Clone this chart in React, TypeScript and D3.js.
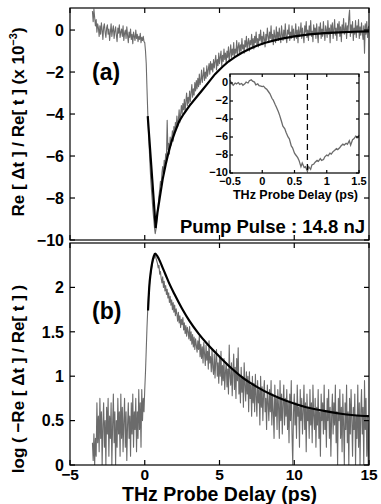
import React from 'react';
import * as d3 from 'd3';

const W = 381;
const H = 504;

// measured traces are sampled every 0.05 ps starting at -3.5 ps (one row = 0.5 ps)
const traceStart = -3.5;
const traceStep = 0.05;

// panel (a): Re[dt]/Re[t] (x 1e-3)
const reTrace = [
  0.9, 0.4, 1.0, 0.6, 0.2, 0.5, -0.1, 0.3, 0.1, -0.3, // -3.5
  0.2, -0.2, 0.35, 0.0, -0.45, 0.15, 0.3, -0.1, -0.35, 0.1, // -3.0
  0.25, -0.2, 0.05, -0.5, -0.1, 0.3, -0.3, 0.0, 0.2, -0.4, // -2.5
  -0.05, 0.15, -0.25, -0.55, 0.1, -0.15, 0.25, -0.35, -0.1, 0.05, // -2.0
  -0.3, 0.2, -0.5, -0.15, 0.0, -0.4, 0.15, -0.25, -0.6, -0.1, // -1.5
  -0.35, 0.05, -0.45, -0.2, -0.65, -0.1, -0.3, -0.5, 0.0, -0.4, // -1.0
  -0.2, -0.55, -0.3, -0.45, -0.15, -0.6, -0.35, -0.5, -0.3, -0.55, // -0.5
  -0.6, -1.0, -1.6, -2.8, -3.9, -4.8, -5.6, -6.4, -7.1, -7.6, // 0.0
  -8.1, -8.6, -9.0, -9.4, -9.7, -9.5, -9.1, -8.6, -8.4, -7.9, // 0.5
  -7.6, -7.2, -7.4, -6.8, -6.5, -6.9, -6.2, -6.5, -5.9, -6.1, // 1.0
  -4.3, -5.7, -5.4, -5.9, -5.1, -5.5, -5.2, -4.8, -5.3, -4.6, // 1.5
  -4.9, -4.4, -4.7, -4.1, -4.6, -4.3, -3.8, -4.4, -4.0, -3.6, // 2.0
  -4.0, -3.5, -3.8, -3.3, -3.9, -3.4, -3.0, -3.6, -3.2, -3.5, // 2.5
  -2.9, -3.4, -3.0, -2.6, -3.2, -2.8, -3.1, -2.5, -2.9, -2.4, // 3.0
  -2.8, -2.3, -2.7, -2.1, -2.6, -2.4, -1.9, -2.5, -2.2, -1.8, // 3.5
  -2.4, -2.0, -2.3, -1.7, -2.2, -1.9, -1.6, -2.1, -1.5, -1.9, // 4.0
  -1.6, -2.0, -1.4, -1.8, -1.5, -1.2, -1.9, -1.4, -1.7, -1.1, // 4.5
  -1.6, -1.3, -1.0, -1.7, -1.2, -1.5, -0.9, -1.4, -1.1, -1.6, // 5.0
  -1.0, -1.3, -0.8, -1.5, -1.1, -0.7, -1.3, -0.9, -1.2, -0.6, // 5.5
  -1.3, -0.9, -1.1, -0.5, -1.2, -0.8, -0.6, -1.1, -0.7, -1.0, // 6.0
  -0.4, -0.9, -0.7, -1.1, -0.5, -0.8, -0.3, -0.9, -0.6, -0.4, // 6.5
  -1.0, -0.5, -0.7, -0.2, -0.8, -0.4, -0.9, -0.3, -0.6, -0.1, // 7.0
  -0.7, -0.4, -0.8, -0.2, -0.5, 0.0, -0.6, -0.3, -0.7, -0.1, // 7.5
  -0.4, -0.8, -0.2, -0.5, 0.1, -0.3, -0.6, -0.1, -0.4, 0.2, // 8.0
  -0.5, -0.2, -0.7, 0.0, -0.3, -0.6, 0.15, -0.4, -0.1, -0.5, // 8.5
  0.1, -0.3, -0.6, 0.2, -0.2, -0.5, 0.0, -0.4, 0.3, -0.3, // 9.0
  -0.6, 0.0, -0.2, 0.25, -0.5, -0.1, -0.4, 0.2, -0.3, 0.05, // 9.5
  -0.5, -0.2, 0.3, -0.4, 0.0, -0.6, 0.15, -0.3, -0.1, 0.35, // 10.0
  -0.4, 0.1, -0.25, -0.6, 0.2, -0.1, 0.4, -0.35, 0.0, -0.5, // 10.5
  0.2, -0.2, 0.45, -0.3, -0.05, -0.55, 0.25, -0.15, 0.1, -0.4, // 11.0
  0.3, -0.2, -0.6, 0.15, -0.1, 0.35, -0.4, 0.05, -0.3, 0.4, // 11.5
  -0.1, -0.5, 0.2, 0.0, -0.35, 0.45, -0.2, 0.1, -0.6, 0.25, // 12.0
  -0.15, 0.35, -0.4, 0.05, 0.5, -0.25, 0.1, -0.5, 0.3, -0.05, // 12.5
  0.4, -0.3, 0.15, -0.55, 0.25, -0.1, 0.55, -0.2, 0.0, 0.35, // 13.0
  -0.4, 0.2, -0.1, 0.6, 0.95, -0.3, 0.25, -0.15, 0.4, -0.5, // 13.5
  0.1, -0.2, 0.45, -0.35, 0.2, -0.05, 0.5, -0.4, 0.15, -0.25, // 14.0
  0.35, -0.1, -0.45, 0.2, -1.1, 0.3, -0.2, 0.4, -0.35, 0.1, // 14.5
  0.2, // 15.0
];

const reFitT = [0.2, 0.3, 0.4, 0.5, 0.6, 0.73, 0.85, 1.0, 1.2, 1.4, 1.6, 1.8, 2.0, 2.3, 2.6, 3.0, 3.4, 3.8, 4.2, 4.7, 5.2, 5.6, 6.0, 6.5, 7.0, 7.5, 8, 9, 10, 11, 12, 13, 14, 15];
const reFitV = [-4.1, -5.1, -6.1, -7.1, -8.1, -9.43, -8.7, -8.0, -7.1, -6.4, -5.8, -5.3, -4.9, -4.35, -4.0, -3.6, -3.25, -2.9, -2.55, -2.1, -1.75, -1.5, -1.3, -1.08, -0.9, -0.75, -0.62, -0.43, -0.3, -0.21, -0.15, -0.11, -0.08, -0.06];

// panel (b): log(-Re[dt]/Re[t])
const logTrace = [
  0.25, 0.05, 0.35, 0.0, 0.3, 0.1, 0.7, 0.25, 0.55, 0.15, // -3.5
  0.75, 0.3, 0.6, 0.0, 0.45, 0.7, 0.2, 0.5, 0.0, 0.65, // -3.0
  0.35, 0.75, 0.1, 0.55, 0.3, 0.7, 0.0, 0.45, 0.8, 0.25, // -2.5
  0.6, 0.0, 0.5, 0.2, 0.75, 0.35, 0.6, 0.1, 0.8, 0.3, // -2.0
  0.65, 0.15, 0.5, 0.75, 0.2, 0.6, 0.05, 0.45, 0.7, 0.3, // -1.5
  0.55, 0.1, 0.7, 0.35, 0.8, 0.2, 0.6, 0.4, 0.75, 0.15, // -1.0
  0.6, 0.3, 0.85, 0.4, 0.7, 0.2, 0.85, 0.5, 0.75, 0.6, // -0.5
  0.85, 1.05, 1.3, 1.55, 1.75, 1.9, 2.0, 2.1, 2.15, 2.2, // 0.0
  2.25, 2.3, 2.32, 2.34, 2.36, 2.33, 2.3, 2.27, 2.22, 2.25, // 0.5
  2.15, 2.18, 2.1, 2.05, 2.12, 2.0, 2.07, 1.96, 2.02, 1.92, // 1.0
  1.98, 1.88, 1.94, 1.83, 1.9, 1.8, 1.86, 1.75, 1.83, 1.72, // 1.5
  1.8, 1.68, 1.76, 1.7, 1.62, 1.72, 1.6, 1.68, 1.55, 1.64, // 2.0
  1.58, 1.66, 1.52, 1.6, 1.48, 1.57, 1.45, 1.55, 1.5, 1.42, // 2.5
  1.56, 1.4, 1.5, 1.36, 1.47, 1.33, 1.44, 1.3, 1.42, 1.35, // 3.0
  1.27, 1.4, 1.3, 1.45, 1.22, 1.36, 1.2, 1.33, 1.15, 1.38, // 3.5
  1.25, 1.12, 1.35, 1.18, 1.28, 1.08, 1.4, 1.15, 1.22, 1.05, // 4.0
  1.3, 1.1, 1.02, 1.25, 0.98, 1.18, 1.3, 1.0, 1.15, 0.92, // 4.5
  1.22, 1.0, 1.28, 0.9, 1.12, 0.95, 1.2, 0.85, 1.05, 1.15, // 5.0
  0.88, 1.08, 0.8, 1.35, 1.0, 0.9, 1.15, 0.78, 1.05, 1.25, // 5.5
  0.85, 1.1, 0.75, 1.2, 0.95, 1.32, 0.8, 1.0, 0.7, 1.1, // 6.0
  0.82, 1.0, 0.65, 1.15, 0.9, 0.72, 1.05, 0.8, 1.0, 0.6, // 6.5
  1.05, 0.75, 0.9, 0.55, 1.0, 0.7, 0.92, 0.6, 1.02, 0.78, // 7.0
  0.55, 0.95, 0.7, 0.85, 0.45, 1.0, 0.65, 0.88, 0.5, 0.8, // 7.5
  0.95, 0.6, 0.75, 0.4, 0.9, 0.7, 0.5, 0.85, 0.6, 0.95, // 8.0
  0.45, 0.8, 0.6, 0.3, 0.9, 0.55, 0.75, 0.4, 0.85, 0.65, // 8.5
  0.3, 0.95, 0.5, 0.8, 0.35, 0.7, 0.9, 0.45, 0.75, 0.55, // 9.0
  0.85, 0.4, 0.7, 0.25, 0.8, 0.5, 0.95, 0.35, 0.0, 0.6, // 9.5
  0.8, 0.45, 0.7, 0.3, 0.9, 0.55, 0.65, 0.2, 0.85, 0.5, // 10.0
  0.75, 0.35, 0.6, 0.9, 0.4, 0.7, 0.15, 0.8, 0.5, 0.65, // 10.5
  0.3, 0.85, 0.45, 0.7, 0.25, 0.9, 0.55, 0.4, 0.75, 0.2, // 11.0
  0.65, 0.45, 0.85, 0.3, 0.6, 0.1, 0.8, 0.5, 0.7, 0.35, // 11.5
  0.9, 0.4, 0.6, 0.2, 0.75, 0.5, 0.85, 0.3, 0.65, 0.1, // 12.0
  0.55, 0.8, 0.35, 0.7, 0.45, 0.9, 0.25, 0.6, 0.0, 0.75, // 12.5
  0.5, 0.85, 0.3, 0.65, 0.15, 0.8, 0.45, 0.0, 0.7, 0.4, // 13.0
  0.9, 0.25, 0.6, 0.0, 0.75, 0.35, 0.85, 0.5, 0.1, 0.65, // 13.5
  0.4, 0.8, 0.0, 0.55, 0.3, 0.9, 0.2, 0.7, 0.0, 0.6, // 14.0
  0.85, 0.35, 0.65, 0.0, 0.95, 0.4, 0.75, 0.1, 0.55, 0.0, // 14.5
  0.5, // 15.0
];

const logFitT = [0.22, 0.3, 0.4, 0.5, 0.6, 0.7, 0.85, 1.0, 1.2, 1.4, 1.6, 2.0, 2.5, 3.0, 3.6, 4.2, 5.0, 5.8, 6.5, 7.5, 8.5, 9.5, 10.8, 12, 13, 14, 15];
const logFitV = [1.74, 2.0, 2.17, 2.28, 2.35, 2.38, 2.35, 2.3, 2.22, 2.14, 2.06, 1.92, 1.76, 1.62, 1.48, 1.36, 1.22, 1.09, 0.99, 0.88, 0.79, 0.72, 0.65, 0.61, 0.58, 0.56, 0.55];

// inset: zoom on the first 2 ps
const insetT = [-0.5, -0.47, -0.45, -0.42, -0.4, -0.37, -0.35, -0.32, -0.3, -0.27, -0.25, -0.22, -0.2, -0.17, -0.15, -0.12, -0.1, -0.07, -0.05, -0.02,
  0.0, 0.02, 0.05, 0.07, 0.1, 0.12, 0.15, 0.17, 0.2, 0.22, 0.25, 0.27, 0.3, 0.32, 0.35, 0.37, 0.4, 0.42, 0.45, 0.47,
  0.5, 0.52, 0.55, 0.57, 0.6, 0.62, 0.65, 0.67, 0.7, 0.72, 0.75, 0.77, 0.8, 0.82, 0.85, 0.87, 0.9, 0.92, 0.95, 0.97,
  1.0, 1.02, 1.05, 1.07, 1.1, 1.12, 1.15, 1.17, 1.2, 1.22, 1.25, 1.27, 1.3, 1.32, 1.35, 1.37, 1.4, 1.42, 1.45, 1.47, 1.5];
const insetV = [0.3, -0.1, -0.25, 0.0, -0.1, 0.05, -0.15, -0.05, -0.25, -0.1, 0.1, 0.0, 0.25, 0.35, 0.2, 0.1, -0.2, -0.1, -0.3, -0.35,
  -0.4, -0.35, -0.6, -0.7, -1.0, -1.2, -1.7, -1.9, -2.4, -2.7, -3.2, -3.6, -4.3, -4.8, -5.1, -5.5, -6.0, -6.2, -7.0, -7.2,
  -7.8, -8.0, -8.3, -8.6, -9.3, -8.9, -9.4, -9.3, -9.8, -9.3, -9.6, -9.1, -9.0, -8.8, -8.6, -8.7, -8.4, -8.6, -8.5, -8.2,
  -8.0, -8.1, -7.8, -7.9, -7.6, -7.5, -7.3, -7.4, -7.2, -7.0, -6.8, -6.9, -6.7, -6.8, -6.4, -6.9, -6.3, -6.2, -5.9, -6.1, -5.8];
const insetMarker = 0.7;

const delayTicks = [-5, 0, 5, 10, 15];
const reTicks = [0, -2, -4, -6, -8, -10];
const logTicks = [0, 0.5, 1, 1.5, 2];
const insetXTicks = [-0.5, 0, 0.5, 1, 1.5];
const insetYTicks = [0, -2, -4, -6, -8, -10];

const FONT = '"Liberation Sans", Arial, Helvetica, sans-serif';
const GRAY = '#6b6b6b';
const fmt = (v: number) => String(v).replace('-', '\u2212');

type Pt = [number, number];
const zip = (t: number[], v: number[]): Pt[] => t.map((x, i) => [x, v[i]]);
const onGrid = (v: number[]): Pt[] => v.map((y, i) => [traceStart + i * traceStep, y]);

function Frame({ x, y, tick, xTicks, yTicks }: any) {
  const [x0, x1] = x.range();
  const [y0, y1] = y.range();
  return (
    <g stroke="#000" strokeWidth={1.2} fill="none">
      <rect x={x0} y={y1} width={x1 - x0} height={y0 - y1} />
      {xTicks.map((t: number) => (
        <g key={'x' + t}>
          <line x1={x(t)} x2={x(t)} y1={y0} y2={y0 - tick} />
          <line x1={x(t)} x2={x(t)} y1={y1} y2={y1 + tick} />
        </g>
      ))}
      {yTicks.map((t: number) => (
        <g key={'y' + t}>
          <line x1={x0} x2={x0 + tick} y1={y(t)} y2={y(t)} />
          <line x1={x1} x2={x1 - tick} y1={y(t)} y2={y(t)} />
        </g>
      ))}
    </g>
  );
}

export default function App() {
  const xA = d3.scaleLinear().domain([-5, 15]).range([70, 369]);
  const yA = d3.scaleLinear().domain([-10, 1.05]).range([240, 8]);
  const yB = d3.scaleLinear().domain([0, 2.5]).range([465, 243]);
  const xI = d3.scaleLinear().domain([-0.5, 1.5]).range([230, 359]);
  const yI = d3.scaleLinear().domain([-10, 1]).range([173, 74]);

  const lineA = d3.line<Pt>().x(d => xA(d[0])).y(d => yA(d[1]));
  const lineB = d3.line<Pt>().x(d => xA(d[0])).y(d => yB(Math.max(0, d[1])));
  const fitB = d3.line<Pt>().x(d => xA(d[0])).y(d => yB(d[1])).curve(d3.curveMonotoneX);
  const lineI = d3.line<Pt>().x(d => xI(d[0])).y(d => yI(d[1]));

  return (
    <svg width={W} height={H} style={{ position: 'absolute', left: 0, top: 0, background: '#fff' }}
      fontFamily={FONT} fontWeight="bold">
      <defs>
        <clipPath id="clipA"><rect x={70} y={8} width={299} height={232} /></clipPath>
        <clipPath id="clipB"><rect x={70} y={243} width={299} height={222} /></clipPath>
      </defs>

      {/* panel (a) */}
      <g clipPath="url(#clipA)">
        <path d={lineA(onGrid(reTrace)) || ''} fill="none" stroke={GRAY} strokeWidth={1.1} strokeLinejoin="round" />
        <path d={lineA(zip(reFitT, reFitV)) || ''} fill="none" stroke="#000" strokeWidth={2.2} />
      </g>
      <Frame x={xA} y={yA} tick={5} xTicks={delayTicks} yTicks={reTicks} />
      {reTicks.map(t => (
        <text key={t} x={64} y={yA(t)} dy="0.36em" textAnchor="end" fontSize={16}>{fmt(t)}</text>
      ))}
      <text x={92} y={80} fontSize={23}>(a)</text>
      <text x={365} y={233} textAnchor="end" fontSize={18.5}>Pump Pulse : 14.8 nJ</text>

      {/* inset */}
      <rect x={230} y={74} width={129} height={99} fill="#fff" />
      <path d={lineI(zip(insetT, insetV)) || ''} fill="none" stroke={GRAY} strokeWidth={1.3} />
      <line x1={xI(insetMarker)} x2={xI(insetMarker)} y1={yI(1)} y2={yI(-10)} stroke="#000" strokeWidth={1.3} strokeDasharray="6,4" />
      <Frame x={xI} y={yI} tick={3} xTicks={insetXTicks} yTicks={insetYTicks} />
      {insetYTicks.map(t => (
        <text key={t} x={228} y={yI(t)} dy="0.3em" textAnchor="end" fontSize={11}>{fmt(t)}</text>
      ))}
      {insetXTicks.map(t => (
        <text key={t} x={xI(t)} y={yI(-10) + 12} textAnchor="middle" fontSize={11}>{fmt(t)}</text>
      ))}
      <text x={(232 + 359) / 2} y={199} textAnchor="middle" fontSize={12.5}>THz Probe Delay (ps)</text>

      {/* panel (b) */}
      <g clipPath="url(#clipB)">
        <path d={lineB(onGrid(logTrace)) || ''} fill="none" stroke={GRAY} strokeWidth={1.1} strokeLinejoin="round" />
        <path d={fitB(zip(logFitT, logFitV)) || ''} fill="none" stroke="#000" strokeWidth={2.2} />
      </g>
      <Frame x={xA} y={yB} tick={5} xTicks={delayTicks} yTicks={logTicks} />
      {logTicks.map(t => (
        <text key={t} x={64} y={yB(t)} dy="0.36em" textAnchor="end" fontSize={16}>{fmt(t)}</text>
      ))}
      {delayTicks.map(t => (
        <text key={t} x={xA(t)} y={479.5} textAnchor="middle" fontSize={15.5}>{fmt(t)}</text>
      ))}
      <text x={xA(5)} y={500.5} textAnchor="middle" fontSize={19.5}>THz Probe Delay (ps)</text>
      <text x={92} y={319} fontSize={23}>(b)</text>

      {/* y labels */}
      <text transform="translate(24,122) rotate(-90)" textAnchor="middle" fontSize={17}>
        Re [ Δt ] / Re[ t ] (x 10<tspan fontSize={11} dy={-7}>−3</tspan><tspan dy={7}>)</tspan>
      </text>
      <text transform="translate(24,379) rotate(-90)" textAnchor="middle" fontSize={17}>
        log ( −Re [ Δt ] / Re[ t ] )
      </text>
    </svg>
  );
}
